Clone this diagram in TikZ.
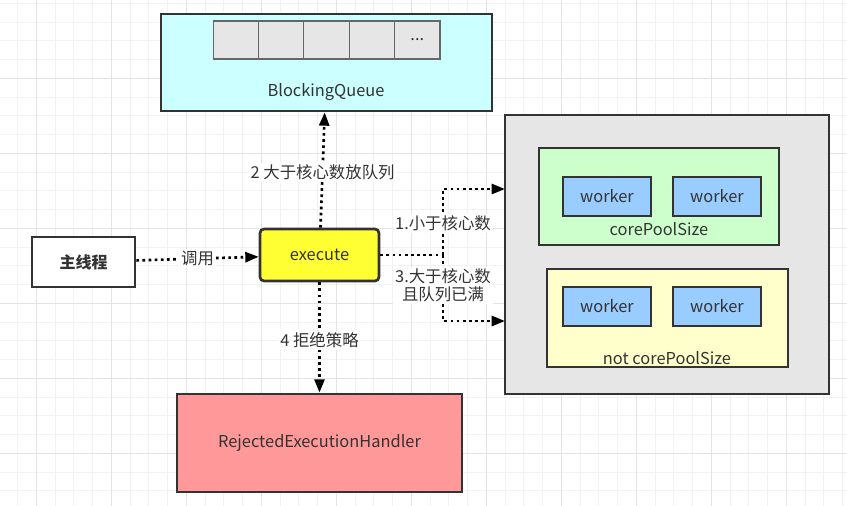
\documentclass[tikz,border=0pt]{standalone}
\usepackage{fontspec}
\setmainfont{Noto Sans CJK SC}
\usetikzlibrary{arrows.meta}

\definecolor{ink}{HTML}{333333}
\definecolor{gridminor}{HTML}{F2F2F2}
\definecolor{gridmajor}{HTML}{E3E3E3}
\definecolor{queuefill}{HTML}{CCFFFF}
\definecolor{cellfill}{HTML}{E6E6E6}
\definecolor{execfill}{HTML}{FFFF33}
\definecolor{rejfill}{HTML}{FF9999}
\definecolor{poolfill}{HTML}{E6E6E6}
\definecolor{corefill}{HTML}{CCFFCC}
\definecolor{extfill}{HTML}{FFFFCC}
\definecolor{workerfill}{HTML}{99CCFF}

\tikzset{
	box/.style={draw=ink, line width=2pt, inner sep=0pt},
	cell/.style={draw=black!60, line width=0.8pt, fill=cellfill, inner sep=0pt,
		minimum width=34pt, minimum height=28.5pt},
	worker/.style={box, fill=workerfill, minimum width=66pt, minimum height=29.25pt},
	flow/.style={draw=black, line width=2pt, dash pattern=on 2pt off 2.6pt,
		-{Triangle[length=10pt,width=7.5pt]}},
	lab/.style={fill=white, inner sep=1.5pt, align=center},
}

\begin{document}
\begin{tikzpicture}[x=0.75pt, y=-0.75pt, text=ink, font=\fontsize{12.3}{13.8}\selectfont]
	% Background grid (pixel coordinates, y pointing down)
	\path[use as bounding box] (0,0) rectangle (847,506);
	\foreach \x in {-1.05,17.7,...,848} \draw[gridminor, line width=0.75pt] (\x,0) -- (\x,506);
	\foreach \y in {3.3,22.05,...,507} \draw[gridminor, line width=0.75pt] (0,\y) -- (847,\y);
	\foreach \x in {36.7,111.7,...,848} \draw[gridmajor, line width=0.75pt] (\x,0) -- (\x,506);
	\foreach \y in {78.3,153.3,...,507} \draw[gridmajor, line width=0.75pt] (0,\y) -- (847,\y);
	
	% BlockingQueue
	\node[box, fill=queuefill, minimum width=248.25pt, minimum height=72.75pt] (queue) at (326.5,62.5) {};
	\foreach \i in {0,...,3}
		\node[cell] (cell\i) at (235.7+45.4*\i,40) {};
	\node[cell] (cell4) at (235.7+45.4*4,40) {...};
	\node (queuetext) at (326,92) {BlockingQueue};
	
	% Main thread and execute
	\node[box, fill=white, minimum width=77.25pt, minimum height=37.5pt,
		font=\fontsize{12}{14}\selectfont\bfseries] (main) at (83.5,262) {主线程};
	\node[box, fill=execfill, rounded corners=3pt, minimum width=89.25pt, minimum height=39pt] (exec) at (319.5,255) {execute};
	
	% RejectedExecutionHandler
	\node[box, fill=rejfill, minimum width=213.75pt, minimum height=73.5pt] (rej) at (319.5,443) {RejectedExecutionHandler};
	
	% Thread pool
	\node[box, fill=poolfill, minimum width=243pt, minimum height=209.25pt] (pool) at (667,254.5) {};
	\node[box, fill=corefill, minimum width=180pt, minimum height=72.75pt] (core) at (659,196.5) {};
	\node[worker] (core1) at (607,196.5) {worker};
	\node[worker] (core2) at (717,196.5) {worker};
	\node (coretext) at (659,229) {corePoolSize};
	
	\node[box, fill=extfill, minimum width=180.75pt, minimum height=73.5pt] (ext) at (667.5,318) {};
	\node[worker] (ext1) at (607,306.5) {worker};
	\node[worker] (ext2) at (717,306.5) {worker};
	\node (exttext) at (667,358) {not corePoolSize};
	
	%% Connectors
	\draw[flow] (main) -- (exec) node[lab, midway] {调用};
	\draw[flow] (exec) -- (queue) node[lab, midway, yshift=-2pt] {2 大于核心数放队列};
	\draw[flow] (exec) -- (rej) node[lab, midway, yshift=-2pt] {4 拒绝策略};
	
	% Branches into the pool
	\coordinate (split) at (443,255);
	\coordinate (incore) at (505,189);
	\coordinate (inext) at (505,321);
	\draw[flow, -] (exec) -- (split);
	\draw[flow] (split) |- (incore) node[lab, pos=0.25, yshift=-1pt] {1.小于核心数};
	\draw[flow] (split) |- (inext) node[lab, pos=0.25, yshift=2pt] {3.大于核心数\\且队列已满};
\end{tikzpicture}
\end{document}
